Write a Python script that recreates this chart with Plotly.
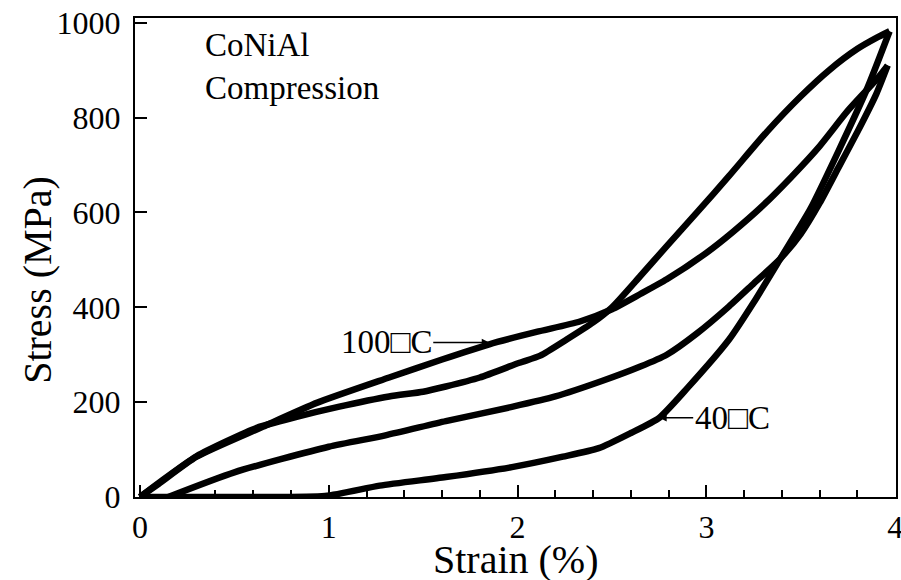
import plotly.graph_objects as go

# ---- data (strain %, stress MPa) ----
c1_strain = [0, 0.1, 0.3, 0.65, 0.94, 1.32, 1.6, 1.85, 2.1, 2.33, 2.5, 2.65, 2.79, 3.0, 3.14, 3.3, 3.45, 3.6, 3.75, 3.9, 3.96]
c1_stress = [0, 28, 85, 148, 199, 252, 290, 322, 348, 370, 396, 428, 459, 515, 559, 615, 675, 740, 815, 880, 910]

c2_strain = [0, 0.1, 0.3, 0.62, 0.83, 1.05, 1.32, 1.5, 1.62, 1.8, 2.01, 2.12, 2.26, 2.4, 2.5, 2.65, 2.79, 2.95, 3.12, 3.32, 3.5, 3.65, 3.8, 3.9, 3.97]
c2_stress = [0, 30, 86, 146, 169, 190, 212, 222, 233, 252, 283, 298, 332, 368, 400, 466, 529, 600, 677, 770, 845, 900, 945, 968, 982]

c3_strain = [0.15, 0.5, 1.0, 1.3, 1.62, 1.97, 2.2, 2.45, 2.65, 2.79, 2.95, 3.12, 3.25, 3.39, 3.5, 3.6, 3.7, 3.8, 3.9, 3.96]
c3_stress = [0, 52, 106, 130, 160, 190, 212, 245, 275, 300, 345, 402, 450, 502, 555, 620, 695, 770, 850, 910]

c4_strain = [0, 0.5, 0.98, 1.27, 1.62, 1.97, 2.24, 2.43, 2.6, 2.75, 2.9, 3.12, 3.25, 3.4, 3.55, 3.7, 3.85, 3.97]
c4_stress = [0, 0, 2, 24, 42, 63, 85, 103, 135, 167, 230, 332, 410, 508, 607, 730, 860, 982]

x_ticks = [0, 1, 2, 3, 4]
y_ticks = [0, 200, 400, 600, 800, 1000]

label_100 = "100\u25a1C"
label_40 = "40\u25a1C"
label_100_at = (1.85, 326)
label_40_at = (2.75, 167)

FONT = "Liberation Serif, Times New Roman, serif"

fig = go.Figure()
for xs, ys in [(c1_strain, c1_stress), (c2_strain, c2_stress),
               (c3_strain, c3_stress), (c4_strain, c4_stress)]:
    fig.add_trace(go.Scatter(x=xs, y=ys, mode="lines",
                             line=dict(color="black", width=6.5, shape="spline", smoothing=0.6),
                             showlegend=False, hoverinfo="skip"))

axis_common = dict(showgrid=False, zeroline=False, showline=True, linecolor="black",
                   linewidth=2, mirror=True, ticks="inside", tickcolor="black",
                   tickwidth=2, ticklen=12, automargin=False, ticklabeloverflow="allow",
                   tickfont=dict(family=FONT, size=32, color="black"))

fig.update_xaxes(range=[-0.026, 4.004], tickvals=x_ticks, ticktext=[str(v) for v in x_ticks],
                 minor=dict(ticks="inside", dtick=0.2, ticklen=7, tickwidth=2, tickcolor="black"),
                 ticklabelstandoff=1, **axis_common)
fig.update_yaxes(range=[0, 1010], tickvals=y_ticks, ticktext=[str(v) for v in y_ticks],
                 ticklabelstandoff=6, **axis_common)

fig.add_annotation(x=label_100_at[0], y=label_100_at[1], text=label_100, showarrow=True,
                   ax=-103, ay=0, arrowhead=2, arrowsize=1, arrowwidth=1.5, arrowcolor="black",
                   font=dict(family=FONT, size=33, color="black"))
fig.add_annotation(x=label_40_at[0], y=label_40_at[1], text=label_40, showarrow=True,
                   ax=73, ay=0, arrowhead=2, arrowsize=1, arrowwidth=1.5, arrowcolor="black",
                   font=dict(family=FONT, size=33, color="black"))

fig.add_annotation(xref="paper", yref="paper", x=0.089, y=0.985, xanchor="left", yanchor="top",
                   text="CoNiAl<br>Compression", showarrow=False, align="left",
                   font=dict(family=FONT, size=33, color="black"))

fig.add_annotation(xref="paper", yref="paper", x=0.5, y=-0.13, xanchor="center", yanchor="middle",
                   text="Strain (%)", showarrow=False,
                   font=dict(family=FONT, size=40, color="black"))
fig.add_annotation(xref="paper", yref="paper", x=-0.129, y=0.453, xanchor="center", yanchor="middle",
                   text="Stress (MPa)", showarrow=False, textangle=-90,
                   font=dict(family=FONT, size=40, color="black"))

fig.update_layout(width=901, height=580, margin=dict(l=135, r=5, t=18, b=83),
                  paper_bgcolor="white", plot_bgcolor="white")

fig.write_html("out.html", config={"displayModeBar": False},
               post_script="document.body.style.margin='0';document.body.style.overflow='hidden';")
